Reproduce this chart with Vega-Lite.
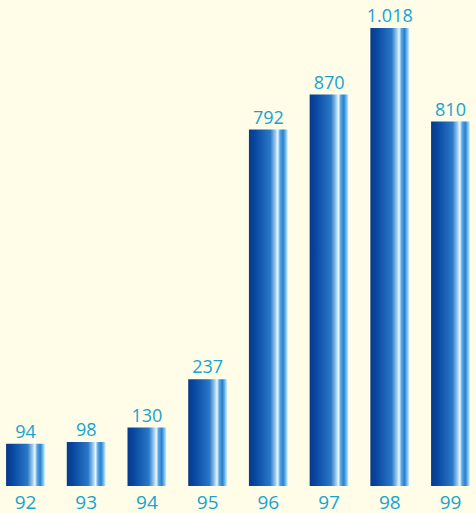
{
  "$schema": "https://vega.github.io/schema/vega-lite/v6.json",
  "width": 476,
  "height": 486,
  "autosize": {"type": "none"},
  "padding": {"left": 0, "top": 0, "right": 0, "bottom": 27},
  "background": "#fffce8",
  "config": {
    "view": {"stroke": null},
    "locale": {"number": {"decimal": ",", "thousands": ".", "grouping": [3], "currency": ["", " €"]}}
  },
  "data": {
    "values": [
      {"year": "92", "value": 94},
      {"year": "93", "value": 98},
      {"year": "94", "value": 130},
      {"year": "95", "value": 237},
      {"year": "96", "value": 792},
      {"year": "97", "value": 870},
      {"year": "98", "value": 1018},
      {"year": "99", "value": 810}
    ]
  },
  "encoding": {
    "x": {
      "field": "year",
      "type": "nominal",
      "sort": null,
      "scale": {"paddingInner": 0.36, "paddingOuter": 0.1},
      "axis": {
        "title": null,
        "domain": false,
        "ticks": false,
        "labelAngle": 0,
        "labelFont": "Open Sans",
        "labelFontSize": 19,
        "labelColor": "#14a4d0",
        "labelPadding": 7
      }
    },
    "y": {
      "field": "value",
      "type": "quantitative",
      "scale": {"domain": [0, 1080], "nice": false},
      "axis": null
    }
  },
  "layer": [
    {
      "mark": {
        "type": "bar",
        "color": {
          "gradient": "linear",
          "x1": 0, "x2": 1, "y1": 0, "y2": 0,
          "stops": [
            {"offset": 0, "color": "#083a88"},
            {"offset": 0.15, "color": "#0746a0"},
            {"offset": 0.55, "color": "#2a78c8"},
            {"offset": 0.68, "color": "#9ccbef"},
            {"offset": 0.74, "color": "#eaf8ff"},
            {"offset": 0.8, "color": "#58a6e0"},
            {"offset": 0.88, "color": "#2a7ecf"},
            {"offset": 0.94, "color": "#6bb8ea"},
            {"offset": 1, "color": "#d6f0ff"}
          ]
        }
      }
    },
    {
      "mark": {
        "type": "text",
        "baseline": "bottom",
        "dy": -2,
        "font": "Open Sans",
        "fontSize": 18,
        "color": "#14a4d0"
      },
      "encoding": {
        "text": {"field": "value", "type": "quantitative", "format": ",d"}
      }
    }
  ]
}
